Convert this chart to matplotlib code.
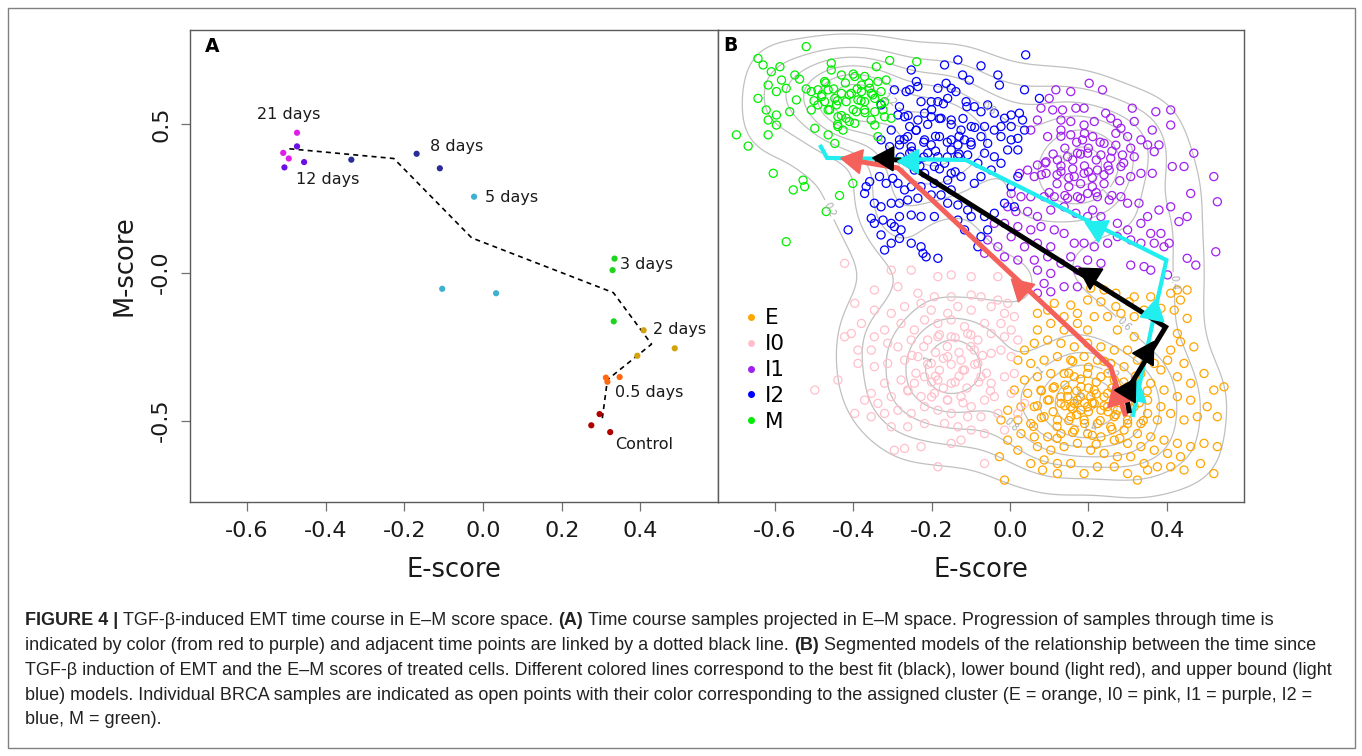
import numpy as np
import matplotlib
matplotlib.use("Agg")
import matplotlib.pyplot as plt
from matplotlib import font_manager
from matplotlib.lines import Line2D
from matplotlib.patches import Rectangle
from matplotlib.transforms import IdentityTransform

# ======================= DATA =======================
# ---- Panel A: TGF-beta time course samples ----
time_groups = ["Control", "0.5 days", "2 days", "3 days", "5 days", "8 days", "12 days", "21 days"]
time_colors = ["#b00000", "#ff6a10", "#d4a20b", "#1ed41e", "#3fb0d0", "#2c2c96", "#6a10e6", "#e01ee8"]
sample_group = (["Control"] * 3 + ["0.5 days"] * 3 + ["2 days"] * 3 + ["3 days"] * 3 +
                ["5 days"] * 3 + ["8 days"] * 3 + ["12 days"] * 3 + ["21 days"] * 3)
sample_E = [0.296, 0.275, 0.323, 0.312, 0.347, 0.316, 0.408, 0.487, 0.392, 0.334, 0.329, 0.332,
            -0.023, -0.104, 0.033, -0.335, -0.169, -0.110, -0.473, -0.505, -0.455, -0.473, -0.508, -0.494]
sample_M = [-0.478, -0.516, -0.539, -0.355, -0.353, -0.369, -0.195, -0.256, -0.281, 0.047, 0.008, -0.165,
            0.256, -0.055, -0.070, 0.381, 0.401, 0.352, 0.426, 0.355, 0.373, 0.472, 0.404, 0.385]
trend_E = [0.303, 0.316, 0.428, 0.331, -0.029, -0.227, -0.493]
trend_M = [-0.492, -0.362, -0.242, -0.068, 0.117, 0.385, 0.418]

# label placement (positions, kept separate from the data)
label_E = [0.336, 0.336, 0.432, 0.348, 0.004, -0.136, -0.476, -0.494]
label_M = [-0.580, -0.405, -0.192, 0.027, 0.254, 0.426, 0.315, 0.535]
label_ha = ["left", "left", "left", "left", "left", "left", "left", "center"]

xticks = [-0.6, -0.4, -0.2, 0.0, 0.2, 0.4]
xtick_labels = ["-0.6", "-0.4", "-0.2", "0.0", "0.2", "0.4"]
yticks = [0.5, 0.0, -0.5]
ytick_labels = ["0.5", "-0.0", "-0.5"]

# ---- Panel B: BRCA samples by cluster ----
clusters = ["E", "I0", "I1", "I2", "M"]
cluster_colors = ["#ffa500", "#ffc0cb", "#a020f0", "#0000ff", "#00ee00"]

M_E = [-0.52, -0.643, -0.63, -0.587, -0.609, -0.549, -0.583, -0.537, -0.617, -0.571, -0.596, -0.643, -0.545,
       -0.622, -0.596, -0.562, -0.617, -0.596, -0.698, -0.668, -0.617, -0.604, -0.553, -0.528, -0.524, -0.571,
       -0.469, -0.435, -0.401, -0.456, -0.456, -0.43, -0.396, -0.371, -0.341, -0.307, -0.238, -0.337, -0.316,
       -0.473, -0.49, -0.464, -0.507, -0.481, -0.447, -0.43, -0.405, -0.379, -0.354, -0.329, -0.473, -0.443,
       -0.418, -0.388, -0.371, -0.345, -0.32, -0.507, -0.464, -0.439, -0.418, -0.392, -0.371, -0.345, -0.324,
       -0.498, -0.464, -0.439, -0.426, -0.396, -0.345, -0.32, -0.447, -0.337, -0.354, -0.49, -0.379, -0.358, -0.303,
       -0.44, -0.41, -0.38, -0.45, -0.42, -0.39, -0.46, -0.43, -0.40, -0.37, -0.35, -0.48, -0.50, -0.47, -0.36,
       -0.41, -0.44, -0.33, -0.52, -0.40]
M_M = [0.763, 0.723, 0.701, 0.695, 0.678, 0.667, 0.65, 0.653, 0.633, 0.622, 0.611, 0.588, 0.583,
       0.549, 0.532, 0.543, 0.515, 0.498, 0.465, 0.427, 0.465, 0.335, 0.279, 0.312, 0.29, 0.104,
       0.206, 0.26, 0.301, 0.707, 0.684, 0.667, 0.662, 0.662, 0.695, 0.716, 0.712, 0.645, 0.65,
       0.645, 0.617, 0.617, 0.611, 0.594, 0.588, 0.605, 0.605, 0.611, 0.605, 0.611, 0.577, 0.566,
       0.577, 0.583, 0.577, 0.588, 0.577, 0.549, 0.549, 0.526, 0.521, 0.543, 0.549, 0.543, 0.549,
       0.487, 0.465, 0.493, 0.481, 0.504, 0.498, 0.526, 0.436, 0.459, 0.515, 0.566, 0.633, 0.622, 0.521,
       0.58, 0.60, 0.58, 0.62, 0.64, 0.62, 0.55, 0.53, 0.55, 0.54, 0.60, 0.60, 0.58, 0.64, 0.64,
       0.51, 0.50, 0.57, 0.62, 0.67]

I2_E = [0.04, -0.167, -0.133, -0.121, -0.074, -0.031, -0.027, 0.037, 0.075, -0.104, -0.163, -0.184, -0.15,
        -0.138, -0.239, -0.235, -0.256, -0.265, -0.227, -0.201, -0.184, -0.159, -0.112, -0.091, -0.057, -0.074,
        -0.04, -0.014, 0.003, 0.024, 0.032, 0.003, -0.023, -0.04, -0.065, -0.099, -0.125, -0.15, -0.176,
        -0.201, -0.218, -0.235, -0.256, -0.239, -0.282, -0.286, -0.269, -0.303, -0.261, -0.282, -0.329,
        -0.307, -0.282, -0.252, -0.218, -0.201, -0.18, -0.15, -0.133, -0.116, -0.099, -0.074, -0.057, -0.023,
        0.003, 0.02, 0.037, -0.15, -0.184, -0.21, -0.235, -0.256, -0.244, -0.218, -0.193, -0.167, -0.133,
        -0.108, -0.082, -0.065, -0.04, -0.023, -0.006, 0.02, -0.048, -0.074, -0.091, -0.125, -0.15, -0.159,
        -0.193, -0.227, -0.252, -0.269, -0.286, -0.299, -0.316, -0.333, -0.358, -0.367, -0.371, -0.346,
        -0.329, -0.303, -0.282, -0.261, -0.235, -0.201, -0.176, -0.15, -0.159, -0.133, -0.108, -0.099, -0.065,
        -0.057, -0.074, -0.082, -0.116, -0.133, -0.193, -0.227, -0.252, -0.282, -0.303, -0.324, -0.354, -0.346,
        -0.278, -0.282, -0.303, -0.329, -0.295, -0.252, -0.227, -0.222, -0.214, -0.184, -0.32, -0.413, -0.329,
        -0.295, -0.252, -0.04, -0.014, 0.011, 0.003, 0.02,
        -0.22, -0.19, -0.16, -0.13, -0.24, -0.21, -0.18, -0.15, -0.12, -0.25, -0.22, -0.19, -0.16, -0.13, -0.27,
        -0.10, -0.09, -0.20, -0.17, -0.23, -0.18, -0.14, -0.26, -0.11, -0.28]
I2_M = [0.735, 0.701, 0.718, 0.667, 0.698, 0.667, 0.633, 0.617, 0.588, 0.65, 0.639, 0.622, 0.622,
        0.611, 0.645, 0.628, 0.617, 0.611, 0.577, 0.577, 0.577, 0.588, 0.577, 0.56, 0.566, 0.543,
        0.538, 0.521, 0.532, 0.538, 0.515, 0.493, 0.493, 0.481, 0.493, 0.493, 0.481, 0.515, 0.521,
        0.526, 0.538, 0.515, 0.493, 0.481, 0.56, 0.532, 0.526, 0.481, 0.459, 0.448, 0.448,
        0.425, 0.431, 0.425, 0.448, 0.431, 0.459, 0.448, 0.431, 0.448, 0.431, 0.459, 0.436, 0.459,
        0.448, 0.453, 0.481, 0.414, 0.391, 0.403, 0.38, 0.403, 0.346, 0.335, 0.358, 0.369, 0.391,
        0.397, 0.369, 0.403, 0.391, 0.369, 0.414, 0.414, 0.346, 0.324, 0.301, 0.324, 0.335, 0.312,
        0.301, 0.29, 0.29, 0.279, 0.301, 0.318, 0.301, 0.324, 0.307, 0.29, 0.267, 0.234,
        0.222, 0.234, 0.234, 0.245, 0.251, 0.262, 0.262, 0.279, 0.234, 0.228, 0.211, 0.189, 0.189,
        0.144, 0.121, 0.087, 0.144, 0.177, 0.189, 0.189, 0.194, 0.189, 0.166, 0.177, 0.183, 0.166,
        0.144, 0.115, 0.099, 0.127, 0.155, 0.099, 0.087, 0.065, 0.053, 0.048, 0.076, 0.144, 0.566,
        0.617, 0.684, 0.2, 0.234, 0.222, 0.29, 0.324,
        0.44, 0.46, 0.44, 0.46, 0.48, 0.50, 0.52, 0.50, 0.52, 0.41, 0.39, 0.41, 0.39, 0.40, 0.45,
        0.44, 0.49, 0.55, 0.57, 0.36, 0.35, 0.34, 0.53, 0.56, 0.39]

I1_E = [0.202, 0.236, 0.117, 0.1, 0.155, 0.079, 0.109, 0.134, 0.168, 0.189, 0.244, 0.257, 0.274, 0.312,
        0.372, 0.41, 0.41, 0.363, 0.317, 0.283, 0.215, 0.189, 0.155, 0.13, 0.07, 0.053, 0.096, 0.13, 0.155,
        0.185, 0.211, 0.24, 0.27, 0.3, 0.334, 0.308, 0.351, 0.38, 0.469, 0.368, 0.317, 0.287, 0.257, 0.232,
        0.198, 0.172, 0.147, 0.121, 0.092, 0.07, 0.045, 0.024, 0.062, 0.092, 0.13, 0.164, 0.189, 0.223,
        0.253, 0.283, 0.308, 0.334, 0.363, 0.414, 0.444, 0.52, 0.461, 0.529, 0.452, 0.431, 0.41, 0.38,
        0.351, 0.329, 0.3, 0.283, 0.253, 0.223, 0.198, 0.172, 0.147, 0.113, 0.087, 0.053, 0.028, 0.003,
        -0.006, 0.015, 0.045, 0.07, 0.104, 0.138, 0.168, 0.198, 0.211, 0.232, 0.274, 0.3, 0.334, 0.359,
        0.385, 0.406, 0.393, 0.368, 0.334, 0.308, 0.274, 0.249, 0.215, 0.189, 0.164, 0.138, 0.113, 0.079,
        0.053, 0.02, -0.014, -0.04, -0.057, -0.031, 0.003, 0.037, 0.07, 0.104, 0.096, 0.062, 0.02, -0.014,
        -0.065, 0.13, 0.155, 0.198, 0.232, 0.308, 0.342, 0.359, 0.402, 0.474, 0.452, 0.525, 0.172, 0.104,
        0.07, 0.138, 0.172, 0.087, 0.07, 0.104,
        0.12, 0.15, 0.18, 0.21, 0.24, 0.13, 0.16, 0.19, 0.22, 0.25, 0.11, 0.14, 0.17, 0.20, 0.23, 0.26,
        0.10, 0.14, 0.18, 0.22, 0.26, 0.28, 0.29, 0.08, 0.09, 0.16, 0.20, 0.12, 0.24, 0.18, 0.15, 0.21,
        0.27, 0.13, 0.19]
I1_M = [0.639, 0.617, 0.617, 0.588, 0.611, 0.555, 0.549, 0.549, 0.555, 0.555, 0.538, 0.521, 0.504, 0.555,
        0.543, 0.549, 0.498, 0.481, 0.51, 0.487, 0.51, 0.498, 0.51, 0.515, 0.515, 0.481, 0.459, 0.481, 0.465,
        0.448, 0.459, 0.436, 0.47, 0.459, 0.448, 0.42, 0.431, 0.431, 0.403, 0.408, 0.391, 0.397, 0.386, 0.397,
        0.403, 0.403, 0.391, 0.38, 0.374, 0.363, 0.346, 0.335, 0.324, 0.335, 0.341, 0.324, 0.335, 0.346,
        0.346, 0.358, 0.324, 0.335, 0.335, 0.358, 0.358, 0.324, 0.267, 0.239, 0.189, 0.172, 0.222, 0.211,
        0.189, 0.234, 0.234, 0.256, 0.245, 0.256, 0.267, 0.256, 0.251, 0.256, 0.256, 0.256, 0.256, 0.267,
        0.222, 0.206, 0.206, 0.189, 0.211, 0.222, 0.2, 0.189, 0.211, 0.189, 0.166, 0.144, 0.166, 0.132,
        0.132, 0.099, 0.087, 0.099, 0.099, 0.11, 0.121, 0.099, 0.087, 0.099, 0.099, 0.132, 0.144, 0.155,
        0.144, 0.155, 0.166, 0.166, 0.11, 0.087, 0.121, 0.087, 0.099, 0.087, 0.053, 0.042, 0.042, 0.053,
        0.065, 0.031, 0.053, 0.042, 0.031, 0.025, 0.02, 0.008, -0.008, 0.025, 0.048, 0.07, 0.008, -0.003,
        0.008, -0.048, -0.048, -0.037, -0.07, -0.065,
        0.30, 0.32, 0.30, 0.32, 0.30, 0.36, 0.38, 0.36, 0.38, 0.36, 0.40, 0.42, 0.44, 0.42, 0.44, 0.41,
        0.27, 0.26, 0.25, 0.27, 0.26, 0.31, 0.37, 0.33, 0.37, 0.35, 0.34, 0.33, 0.33, 0.40, 0.29, 0.29,
        0.43, 0.46, 0.47]

I0_E = [-0.422, -0.303, -0.252, -0.184, -0.15, -0.099, -0.031, 0.02, 0.045, -0.396, -0.346, -0.286, -0.235,
        -0.193, -0.15, -0.099, -0.074, -0.031, -0.006, 0.011, -0.014, -0.048, -0.099, -0.133, -0.159, -0.201,
        -0.227, -0.269, -0.303, -0.346, -0.379, -0.405, -0.346, -0.32, -0.278, -0.244, -0.218, -0.184, -0.15,
        -0.116, -0.065, -0.023, 0.003, 0.02, -0.014, -0.048, -0.082, -0.108, -0.15, -0.184, -0.21, -0.252,
        -0.286, -0.312, -0.354, -0.388, -0.422, -0.439, -0.498, -0.388, -0.346, -0.312, -0.269, -0.235, -0.201,
        -0.159, -0.125, -0.082, -0.048, -0.023, 0.003, -0.091, -0.116, -0.074, -0.048, -0.014, 0.011, -0.15,
        -0.184, -0.218, -0.244, -0.278, -0.32, -0.354, -0.371, -0.337, -0.303, -0.261, -0.227, -0.193, -0.159,
        -0.125, -0.099, -0.065, -0.04, 0.003, -0.031, -0.074, -0.108, -0.15, -0.184, -0.218, -0.252, -0.286,
        -0.32, -0.354, -0.396, -0.303, -0.261, -0.218, -0.167, -0.133, -0.099, -0.065, -0.295, -0.269, -0.227,
        -0.15, -0.125, -0.065, -0.184, -0.014, 0.02, 0.037,
        -0.22, -0.19, -0.16, -0.13, -0.10, -0.21, -0.18, -0.15, -0.12, -0.09, -0.20, -0.17, -0.14, -0.11, -0.08,
        -0.24, -0.25, -0.06, -0.07, -0.16, -0.12, -0.20, -0.14, -0.18, -0.10, -0.26, -0.05, -0.17, -0.13, -0.19]
I0_M = [0.031, 0.008, 0.008, -0.014, -0.008, -0.014, -0.014, -0.037, -0.059, -0.104, -0.059, -0.048, -0.07,
        -0.082, -0.082, -0.076, -0.082, -0.093, -0.104, -0.149, -0.138, -0.115, -0.127, -0.115, -0.138, -0.127,
        -0.104, -0.115, -0.138, -0.127, -0.172, -0.206, -0.217, -0.194, -0.172, -0.194, -0.16, -0.172, -0.16,
        -0.183, -0.172, -0.172, -0.194, -0.228, -0.217, -0.206, -0.228, -0.206, -0.217, -0.217, -0.228, -0.228,
        -0.251, -0.239, -0.262, -0.262, -0.217, -0.363, -0.397, -0.307, -0.318, -0.307, -0.296, -0.284, -0.307,
        -0.284, -0.296, -0.307, -0.273, -0.262, -0.284, -0.262, -0.329, -0.352, -0.374, -0.352, -0.341, -0.374,
        -0.363, -0.352, -0.374, -0.363, -0.374, -0.408, -0.431, -0.442, -0.419, -0.397, -0.419, -0.408, -0.431,
        -0.419, -0.453, -0.431, -0.419, -0.408, -0.476, -0.487, -0.487, -0.476, -0.465, -0.453, -0.476, -0.465,
        -0.476, -0.487, -0.476, -0.521, -0.521, -0.51, -0.51, -0.521, -0.532, -0.544, -0.6, -0.594, -0.588,
        -0.577, -0.566, -0.645, -0.656, -0.532, -0.476, -0.442,
        -0.25, -0.27, -0.25, -0.27, -0.25, -0.31, -0.33, -0.31, -0.33, -0.31, -0.37, -0.39, -0.37, -0.39, -0.37,
        -0.34, -0.28, -0.34, -0.28, -0.43, -0.44, -0.42, -0.22, -0.21, -0.21, -0.40, -0.40, -0.29, -0.35, -0.35]

E_E = [0.206, 0.24, 0.27, 0.317, 0.359, 0.41, 0.427, 0.452, 0.435, 0.452, 0.419, 0.385, 0.342, 0.304, 0.27,
       0.232, 0.198, 0.155, 0.113, 0.096, 0.07, 0.138, 0.172, 0.215, 0.249, 0.283, 0.317, 0.07, 0.104, 0.138,
       0.172, 0.198, 0.274, 0.317, 0.427, 0.435, 0.469, 0.41, 0.359, 0.402, 0.444, 0.495, 0.52, 0.546, 0.461,
       0.427, 0.385, 0.368, 0.325, 0.3, 0.266, 0.232, 0.198, 0.164, 0.13, 0.096, 0.062, 0.037, 0.02, 0.053,
       0.087, 0.121, 0.155, 0.189, 0.223, 0.257, 0.291, 0.334, 0.359, 0.393, 0.427, 0.461, 0.503, 0.529, 0.478,
       0.444, 0.41, 0.385, 0.351, 0.325, 0.3, 0.266, 0.232, 0.198, 0.164, 0.138, 0.104, 0.07, 0.037, 0.011,
       0.045, 0.079, 0.113, 0.147, 0.181, 0.215, 0.249, 0.283, 0.317, 0.351, 0.376, 0.334, 0.3, 0.266, 0.232,
       0.198, 0.164, 0.13, 0.096, 0.062, 0.028, -0.006, -0.023, 0.02, 0.053, 0.087, 0.121, 0.155, 0.189, 0.223,
       0.257, 0.291, 0.325, 0.359, 0.393, 0.427, 0.461, 0.495, 0.529, 0.435, 0.402, 0.368, 0.334, 0.3, 0.266,
       0.232, 0.198, 0.164, 0.13, 0.096, 0.062, 0.028, -0.006, -0.027, 0.02, 0.07, 0.104, 0.138, 0.172, 0.206,
       0.24, 0.274, 0.308, 0.342, 0.376, 0.41, 0.444, 0.486, 0.52, 0.155, 0.121, 0.087, 0.053, -0.014, 0.083,
       0.121, 0.189, 0.223, 0.266, 0.3, 0.325, 0.351, 0.206, 0.172, 0.181, 0.215, 0.147, 0.249, 0.155, 0.274,
       0.17, 0.19, 0.22, 0.24, 0.20, 0.16, 0.13, 0.14, 0.18, 0.22, 0.26, 0.28, 0.27, 0.23, 0.19, 0.15, 0.11,
       0.10, 0.11, 0.15, 0.20, 0.25, 0.29, 0.31, 0.31, 0.30, 0.26, 0.21, 0.16, 0.12, 0.08, 0.07, 0.08, 0.18,
       0.21, 0.24, 0.20, 0.17, 0.25, 0.14, 0.33, 0.34, 0.28, 0.22, 0.12, 0.06, 0.35, 0.32, 0.24, 0.16]
E_M = [-0.053, -0.059, -0.07, -0.082, -0.082, -0.07, -0.059, -0.059, -0.093, -0.155, -0.127, -0.121, -0.127,
       -0.099, -0.115, -0.099, -0.093, -0.11, -0.104, -0.127, -0.138, -0.149, -0.138, -0.149, -0.149, -0.138,
       -0.149, -0.194, -0.172, -0.194, -0.172, -0.194, -0.194, -0.217, -0.206, -0.234, -0.251, -0.262, -0.251,
       -0.296, -0.307, -0.341, -0.397, -0.386, -0.374, -0.352, -0.329, -0.307, -0.296, -0.262, -0.262, -0.251,
       -0.239, -0.251, -0.239, -0.228, -0.239, -0.262, -0.296, -0.307, -0.296, -0.284, -0.296, -0.284, -0.296,
       -0.307, -0.318, -0.341, -0.374, -0.397, -0.419, -0.431, -0.453, -0.487, -0.487, -0.498, -0.476, -0.453,
       -0.431, -0.408, -0.386, -0.363, -0.352, -0.341, -0.352, -0.341, -0.341, -0.352, -0.363, -0.397, -0.408,
       -0.397, -0.386, -0.397, -0.386, -0.397, -0.408, -0.419, -0.453, -0.476, -0.498, -0.51, -0.498, -0.487,
       -0.465, -0.453, -0.442, -0.442, -0.431, -0.453, -0.453, -0.465, -0.498, -0.498, -0.51, -0.487, -0.498,
       -0.487, -0.498, -0.51, -0.521, -0.532, -0.544, -0.555, -0.566, -0.577, -0.588, -0.577, -0.588, -0.622,
       -0.611, -0.6, -0.588, -0.577, -0.566, -0.555, -0.544, -0.532, -0.544, -0.555, -0.555, -0.544, -0.566,
       -0.622, -0.6, -0.588, -0.6, -0.588, -0.577, -0.6, -0.611, -0.622, -0.622, -0.645, -0.656, -0.656, -0.667,
       -0.645, -0.679, -0.645, -0.645, -0.633, -0.645, -0.701, -0.667, -0.679, -0.679, -0.656, -0.656, -0.679,
       -0.701, -0.667, -0.419, -0.431, -0.465, -0.442, -0.419, -0.453, -0.453, -0.465,
       -0.40, -0.44, -0.41, -0.45, -0.47, -0.46, -0.42, -0.38, -0.36, -0.37, -0.39, -0.43, -0.48, -0.50, -0.51,
       -0.50, -0.47, -0.43, -0.39, -0.34, -0.32, -0.34, -0.37, -0.41, -0.46, -0.51, -0.53, -0.55, -0.54, -0.52,
       -0.49, -0.45, -0.40, -0.42, -0.44, -0.42, -0.39, -0.48, -0.47, -0.45, -0.44, -0.50, -0.56, -0.58, -0.56,
       -0.52, -0.40, -0.35, -0.30, -0.30]

cluster_E = [E_E, I0_E, I1_E, I2_E, M_E]
cluster_M = [E_M, I0_M, I1_M, I2_M, M_M]

# ---- Panel B: segmented model trajectories (E-state -> M-state) ----
black_E = [0.305, 0.295, 0.397, -0.281, -0.345]
black_M = [-0.475, -0.407, -0.184, 0.380, 0.383]
red_E = [0.295, 0.257, -0.286, -0.421]
red_M = [-0.485, -0.319, 0.353, 0.383]
cyan_E = [0.313, 0.376, 0.399, -0.113, -0.467, -0.485]
cyan_M = [-0.488, -0.093, 0.042, 0.380, 0.387, 0.431]
black_arrow_E = [0.302, 0.348, 0.203, -0.317]
black_arrow_M = [-0.397, -0.272, -0.008, 0.387]
red_arrow_E = [0.272, 0.027, -0.398]
red_arrow_M = [-0.420, -0.052, 0.380]
cyan_arrow_E = [0.318, 0.364, 0.223, -0.253]
cyan_arrow_M = [-0.407, -0.133, 0.150, 0.377]

# ---- Caption ----
caption_lines = [
    [("FIGURE 4 |", True), ("TGF-\u03b2-induced EMT time course in E\u2013M score space.", False), ("(A)", True),
     ("Time course samples projected in E\u2013M space. Progression of samples through time is", False)],
    [("indicated by color (from red to purple) and adjacent time points are linked by a dotted black line.", False),
     ("(B)", True), ("Segmented models of the relationship between the time since", False)],
    [("TGF-\u03b2 induction of EMT and the E\u2013M scores of treated cells. Different colored lines correspond to the best fit (black), lower bound (light red), and upper bound (light", False)],
    [("blue) models. Individual BRCA samples are indicated as open points with their color corresponding to the assigned cluster (E = orange, I0 = pink, I1 = purple, I2 =", False)],
    [("blue, M = green).", False)],
]

# ======================= FIGURE =======================
plt.rcParams["font.family"] = ["DejaVu Sans"]
W, H = 1362, 756
fig = plt.figure(figsize=(W / 100, H / 100), dpi=100)
fig.patch.set_facecolor("white")

XLIM = (-0.745, 0.597)
YLIM = (-0.775, 0.819)
FRAME = "#5a5a5a"

def px_axes(l, t, r, b):
    return fig.add_axes([l / W, 1 - b / H, (r - l) / W, (b - t) / H])

axA = px_axes(190, 30, 718, 502)
axB = px_axes(718, 30, 1244, 502)

for ax in (axA, axB):
    ax.set_xlim(*XLIM)
    ax.set_ylim(*YLIM)
    for s in ax.spines.values():
        s.set_color(FRAME)
        s.set_linewidth(1.0)
    ax.set_xticks(xticks)
    ax.set_xticklabels(xtick_labels)
    ax.tick_params(axis="both", direction="out", length=6.5, width=0.9, color="#707070",
                   labelsize=16, pad=7, labelcolor="#1a1a1a")
    ax.set_xlabel("E-score", fontsize=18.5, labelpad=12, color="#1a1a1a")

axA.set_yticks(yticks)
axA.set_yticklabels(ytick_labels, rotation=90, va="center")
axA.set_ylabel("M-score", fontsize=18.5, labelpad=10, color="#1a1a1a")
axB.set_yticks([])

# ---- Panel A ----
axA.plot(trend_E, trend_M, color="black", lw=1.2, dashes=(3, 2.5), zorder=2)
for g, c in zip(time_groups, time_colors):
    es = [e for e, gg in zip(sample_E, sample_group) if gg == g]
    ms = [m for m, gg in zip(sample_M, sample_group) if gg == g]
    axA.scatter(es, ms, s=20, color=c, edgecolors="none", zorder=3)
for g, e, m, ha in zip(time_groups, label_E, label_M, label_ha):
    axA.text(e, m, g, fontsize=11.5, ha=ha, va="center", color="#1a1a1a", zorder=4)
axA.text(0.042, 0.964, "A", transform=axA.transAxes, fontsize=13.5, fontweight="bold",
         ha="center", va="center")

# ---- Panel B ----
allE = np.concatenate([np.asarray(v, float) for v in cluster_E])
allM = np.concatenate([np.asarray(v, float) for v in cluster_M])

def nrd(x):
    q75, q25 = np.percentile(x, [75, 25])
    return 1.06 * min(np.std(x, ddof=1), (q75 - q25) / 1.34) * len(x) ** (-0.2)

hx, hy = 0.85 * nrd(allE), 0.85 * nrd(allM)
gx = np.linspace(XLIM[0], XLIM[1], 240)
gy = np.linspace(YLIM[0], YLIM[1], 240)
GX, GY = np.meshgrid(gx, gy)
Z = np.zeros_like(GX)
for e, m in zip(allE, allM):
    Z += np.exp(-0.5 * (((GX - e) / hx) ** 2 + ((GY - m) / hy) ** 2))
Z /= len(allE) * 2 * np.pi * hx * hy
levels = np.arange(0.2, Z.max(), 0.2)
cs = axB.contour(GX, GY, Z, levels=levels, colors="#c0c0c0", linewidths=0.9, zorder=1)
axB.clabel(cs, inline=True, fontsize=7, colors="#a8a8a8", fmt=lambda v: f"{v:g}", inline_spacing=3)

for name, c, es, ms in zip(clusters, cluster_colors, cluster_E, cluster_M):
    axB.scatter(es, ms, s=34, facecolors="none", edgecolors=c, linewidths=0.9, zorder=2)

def draw_path(pe, pm, ae, am, color, lw, z):
    axB.plot(pe, pm, color=color, lw=lw, solid_joinstyle="miter", solid_capstyle="butt", zorder=z)
    disp = axB.transData.transform(np.column_stack([pe, pm]))
    for e, m in zip(ae, am):
        p = axB.transData.transform((e, m))
        best = None
        for i in range(len(disp) - 1):
            a, b = disp[i], disp[i + 1]
            ab = b - a
            t = np.clip(np.dot(p - a, ab) / np.dot(ab, ab), 0, 1)
            d = np.linalg.norm(a + t * ab - p)
            if best is None or d < best[0]:
                best = (d, ab)
        ang = np.degrees(np.arctan2(best[1][1], best[1][0]))
        axB.plot([e], [m], ls="", marker=(3, 0, ang - 90), ms=20, color=color, mec=color, zorder=z + 3)

draw_path(cyan_E, cyan_M, cyan_arrow_E, cyan_arrow_M, "#22eef0", 3.0, 3)
draw_path(red_E, red_M, red_arrow_E, red_arrow_M, "#f4605a", 3.6, 4)
draw_path(black_E, black_M, black_arrow_E, black_arrow_M, "black", 3.6, 5)

handles = [Line2D([], [], ls="", marker="o", ms=4, color=c) for c in cluster_colors]
leg = axB.legend(handles, clusters, loc="upper left", bbox_to_anchor=(0.051, 0.41), frameon=False,
                 fontsize=15.5, handlelength=0.6, handletextpad=0.32, labelspacing=0.27,
                 borderpad=0, borderaxespad=0)
leg.set_zorder(10)
axB.text(0.023, 0.968, "B", transform=axB.transAxes, fontsize=13.5, fontweight="bold",
         ha="center", va="center")

# ---- outer frame ----
fig.add_artist(Rectangle((8 / W, 1 - 748 / H), 1347 / W, 740 / H, transform=fig.transFigure,
                         fill=False, edgecolor="#808080", lw=1.0))

# ---- caption ----
names = {f.name for f in font_manager.fontManager.ttflist}
cap_font = "Liberation Sans Narrow" if "Liberation Sans Narrow" in names else "Liberation Sans"
fam = [cap_font, "DejaVu Sans"]
renderer = fig.canvas.get_renderer()

def twidth(s, fs, bold):
    t = fig.text(0, 0, s, fontsize=fs, family=fam, fontweight="bold" if bold else "normal")
    w = t.get_window_extent(renderer).width
    t.remove()
    return w

def line_width(segs, fs):
    w = 0
    for i, (s, b) in enumerate(segs):
        w += twidth(s, fs, b)
        if i:
            w += twidth("a a", fs, False) - twidth("aa", fs, False)
    return w

target = 1310.0
fs_cap = 10 * target / max(line_width(segs, 10) for segs in caption_lines)
space = twidth("a a", fs_cap, False) - twidth("aa", fs_cap, False)
baselines = [625, 650, 675, 700, 724]
for segs, yb in zip(caption_lines, baselines):
    x = 25.0
    for i, (s, b) in enumerate(segs):
        if i:
            x += space
        t = fig.text(x, H - yb, s, fontsize=fs_cap, family=fam, fontweight="bold" if b else "normal",
                     transform=IdentityTransform(), ha="left", va="baseline", color="#222222")
        x += t.get_window_extent(renderer).width

fig.savefig("out.png", dpi=100, facecolor="white")
